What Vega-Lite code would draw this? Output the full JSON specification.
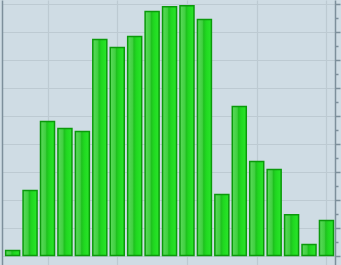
{
  "$schema": "https://vega.github.io/schema/vega-lite/v6.json",
  "width": 333,
  "height": 265,
  "autosize": {"type": "none"},
  "padding": {"left": 2, "top": 0, "right": 6, "bottom": 0},
  "background": "#cfdce4",
  "config": {"view": {"stroke": null}, "axis": {"gridColor": "#bdcad2", "gridWidth": 1.2, "gridOpacity": 1}},
  "data": {"values": [
    {"i": 1, "v": 1.8}, {"i": 2, "v": 23.2}, {"i": 3, "v": 47.9}, {"i": 4, "v": 45.4},
    {"i": 5, "v": 44.3}, {"i": 6, "v": 77.1}, {"i": 7, "v": 74.3}, {"i": 8, "v": 78.2},
    {"i": 9, "v": 87.1}, {"i": 10, "v": 88.8}, {"i": 11, "v": 89.2}, {"i": 12, "v": 84.3},
    {"i": 13, "v": 21.8}, {"i": 14, "v": 53.2}, {"i": 15, "v": 33.6}, {"i": 16, "v": 30.7},
    {"i": 17, "v": 14.6}, {"i": 18, "v": 3.9}, {"i": 19, "v": 12.5}
  ]},
  "encoding": {
    "x": {"field": "i", "type": "quantitative", "scale": {"domain": [0.39, 19.49], "nice": false, "zero": false, "padding": 0},
      "axis": {"orient": "bottom", "values": [3, 7, 11, 15, 19], "grid": true, "domain": false, "ticks": false, "labels": false, "title": null}}
  },
  "layer": [
    {
      "mark": {"type": "bar", "size": 14, "strokeWidth": 1.5, "stroke": "#0b9a0b",
        "color": {"gradient": "linear", "x1": 0, "y1": 0, "x2": 1, "y2": 0,
          "stops": [{"offset": 0, "color": "#5cd95c"}, {"offset": 0.35, "color": "#40d040"}, {"offset": 0.45, "color": "#1ec21e"}, {"offset": 0.62, "color": "#20d820"}, {"offset": 1, "color": "#2ae62a"}]}},
      "encoding": {
        "y": {"field": "v", "type": "quantitative", "scale": {"domain": [-3.39, 91.25], "nice": false, "zero": false, "padding": 0},
          "axis": {"orient": "left", "values": [0, 10, 20, 30, 40, 50, 60, 70, 80, 90], "grid": true, "domain": true, "domainColor": "#7d8f9b", "domainWidth": 1.5, "ticks": false, "labels": false, "title": null}}
      }
    },
    {
      "mark": {"type": "rule", "color": "#3a3aee", "strokeWidth": 1.5},
      "encoding": {
        "y": {"datum": 0, "type": "quantitative", "scale": {"domain": [-3.39, 91.25], "nice": false, "zero": false, "padding": 0}, "axis": null}
      }
    },
    {
      "mark": {"type": "bar", "opacity": 0},
      "encoding": {
        "y": {"field": "v", "type": "quantitative", "scale": {"domain": [-3.39, 91.25], "nice": false, "zero": false, "padding": 0},
          "axis": {"orient": "right", "values": [0, 10, 20, 30, 40, 50, 60, 70, 80, 90], "grid": false, "domain": true, "domainColor": "#7d8f9b", "domainWidth": 1.5, "ticks": true, "tickColor": "#7d8f9b", "tickSize": 5, "tickWidth": 1.5, "labels": false, "title": null}}
      }
    },
    {
      "mark": {"type": "bar", "opacity": 0},
      "encoding": {
        "y": {"field": "v", "type": "quantitative", "scale": {"domain": [-3.39, 91.25], "nice": false, "zero": false, "padding": 0},
          "axis": {"orient": "right", "values": [5, 15, 25, 35, 45, 55, 65, 75, 85], "grid": false, "domain": false, "ticks": true, "tickColor": "#7d8f9b", "tickSize": 3, "tickWidth": 1.5, "labels": false, "title": null}}
      }
    }
  ],
  "resolve": {"scale": {"y": "independent"}, "axis": {"y": "independent"}}
}
